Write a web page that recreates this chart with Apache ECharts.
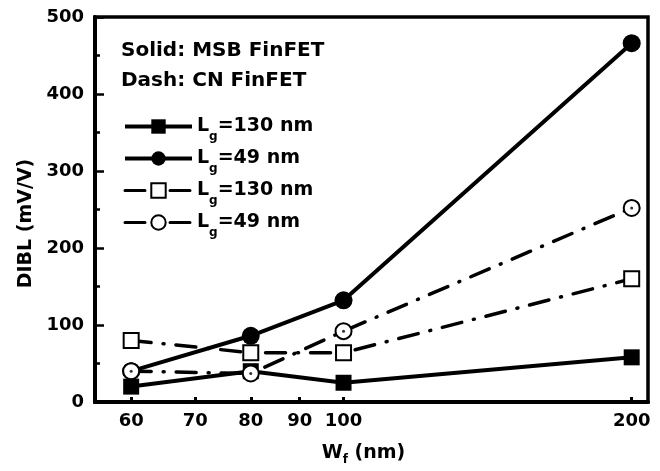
<!DOCTYPE html>
<html><head><meta charset="utf-8">
<script src="https://cdn.jsdelivr.net/npm/echarts@6/dist/echarts.min.js"></script>
<style>html,body{margin:0;padding:0;background:#fff}#c{width:660px;height:471px}</style>
</head><body><div id="c"></div>
<script>
var wf = [60, 80, 100, 200];
var xTicks = [60, 70, 80, 90, 100, 200];
var msb130 = [20, 40, 25, 58];
var msb49 = [40, 86, 132, 466];
var cn130 = [80, 64, 64, 160];
var cn49 = [40, 37, 92, 252];
var names = ['MSB Lg=130 nm', 'MSB Lg=49 nm', 'CN Lg=130 nm', 'CN Lg=49 nm'];
var legendText = ['=130 nm', '=49 nm', '=130 nm', '=49 nm'];

function pairs(v) { return wf.map(function (x, i) { return [x, v[i]]; }); }
var F = 'DejaVu Sans';
var dash = [20, 12, 1, 12];
var chart = echarts.init(document.getElementById('c'));
chart.setOption({
  animation: false,
  grid: { left: 95, right: 12, top: 17, bottom: 66, show: true, borderColor: '#000', borderWidth: 3.5 },
  graphic: [
    { type: 'text', left: 121, top: 41, style: { text: 'Solid: MSB FinFET', font: 'bold 20px ' + F, fill: '#000' } },
    { type: 'text', left: 121, top: 71, style: { text: 'Dash: CN FinFET', font: 'bold 20px ' + F, fill: '#000' } }
  ],
  legend: {
    orient: 'vertical', left: 118, top: 112, itemWidth: 67, itemHeight: 18, itemGap: 6.5,
    data: [
      { name: names[0], lineStyle: { width: 4 } },
      { name: names[1], lineStyle: { width: 4 } },
      { name: names[2], lineStyle: { width: 3 } },
      { name: names[3], lineStyle: { width: 3 } }
    ],
    formatter: function (n) {
      var i = names.indexOf(n);
      return '{a|L}{b|g}{a|' + legendText[i] + '}';
    },
    textStyle: {
      rich: {
        a: { fontFamily: F, fontWeight: 'bold', fontSize: 19, color: '#000' },
        b: { fontFamily: F, fontWeight: 'bold', fontSize: 12, color: '#000', padding: [20, 0, 0, 0] }
      }
    }
  },
  xAxis: {
    type: 'log', logBase: 10, min: 55, max: 208,
    name: '{a|W}{b|f}{a| (nm)}', nameLocation: 'middle', nameGap: 38,
    nameTextStyle: { padding: [0, 16, 0, 0], rich: {
      a: { fontFamily: F, fontWeight: 'bold', fontSize: 19, color: '#000' },
      b: { fontFamily: F, fontWeight: 'bold', fontSize: 12, color: '#000', padding: [14, 0, 0, 0] } } },
    axisLine: { lineStyle: { color: '#000', width: 4 } },
    axisTick: { inside: true, length: 5, lineStyle: { width: 3, color: '#000' }, customValues: xTicks },
    minorTick: { show: false },
    axisLabel: { customValues: xTicks, margin: 10, fontFamily: F, fontWeight: 'bold', fontSize: 18, color: '#000', formatter: function (v) { return String(Math.round(v)); } },
    splitLine: { show: false }
  },
  yAxis: {
    type: 'value', min: 0, max: 500, interval: 100,
    name: 'DIBL (mV/V)', nameLocation: 'middle', nameGap: 57,
    nameTextStyle: { fontFamily: F, fontWeight: 'bold', fontSize: 19, color: '#000', padding: [0, 28, 0, 0] },
    axisLine: { show: true, lineStyle: { color: '#000', width: 4 } },
    axisTick: { inside: true, length: 9, lineStyle: { width: 2.5, color: '#000' } },
    minorTick: { show: true, splitNumber: 2, length: 5, lineStyle: { width: 2.5, color: '#000' } },
    axisLabel: { margin: 11, fontFamily: F, fontWeight: 'bold', fontSize: 18, color: '#000' },
    splitLine: { show: false }
  },
  series: [
    { name: names[0], type: 'line', data: pairs(msb130), symbol: 'rect', symbolSize: 16, z: 3,
      lineStyle: { color: '#000', width: 4 }, itemStyle: { color: '#000' } },
    { name: names[1], type: 'line', data: pairs(msb49), symbol: 'circle', symbolSize: 18, z: 3,
      lineStyle: { color: '#000', width: 4 }, itemStyle: { color: '#000' } },
    { name: names[2], type: 'line', data: pairs(cn130), symbol: 'rect', symbolSize: 15, z: 4,
      lineStyle: { color: '#000', width: 3.5, type: dash, cap: 'round' }, itemStyle: { color: '#fff', borderColor: '#000', borderWidth: 2 } },
    { name: names[3], type: 'line', data: pairs(cn49), symbol: 'circle', symbolSize: 16, z: 4,
      lineStyle: { color: '#000', width: 3.5, type: dash, cap: 'round' }, itemStyle: { color: '#fff', borderColor: '#000', borderWidth: 2 } },
    { name: 'dots', type: 'scatter', data: pairs(cn49), symbol: 'circle', symbolSize: 3, z: 5, silent: true,
      itemStyle: { color: '#000' } }
  ]
});
</script></body></html>
